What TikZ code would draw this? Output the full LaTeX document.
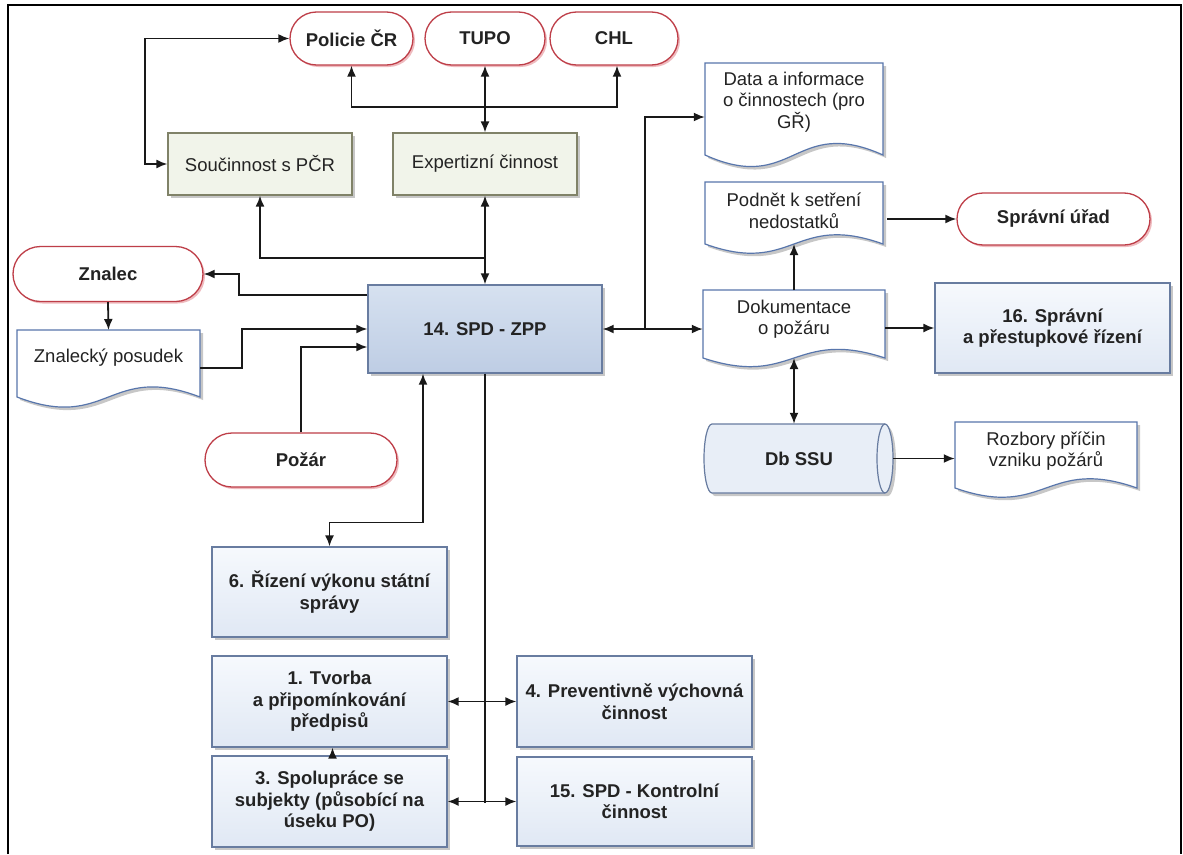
\documentclass[tikz,border=0pt]{standalone}
\usepackage{fontspec}
\setmainfont{Liberation Sans}
\usetikzlibrary{arrows.meta,shapes.misc,shadows,calc}
\definecolor{termred}{RGB}{190,62,72}
\definecolor{termglow}{RGB}{236,170,176}
\definecolor{olivegray}{RGB}{128,130,104}
\definecolor{lightgreen}{RGB}{241,244,234}
\definecolor{procborder}{RGB}{104,124,160}
\definecolor{proctop}{RGB}{246,249,253}
\definecolor{procbot}{RGB}{224,232,244}
\definecolor{zpptop}{RGB}{214,225,240}
\definecolor{zppbot}{RGB}{190,205,228}
\definecolor{docblue}{RGB}{88,118,172}
\definecolor{dbfill}{RGB}{232,238,247}
\definecolor{txt}{RGB}{35,35,35}
\definecolor{linec}{RGB}{25,25,25}
\newcommand{\dfont}{\fontsize{18.5pt}{21.5pt}\selectfont}
\newcommand{\docshape}[5]{%
  \draw[docsh] (#1,#3) -- (#2,#3) -- (#2,#4)
    .. controls ({(#1+#2)/2},{#4-#5}) and ({(#1+#2)/2},{#4+#5}) .. (#1,#4) -- cycle;}
\tikzset{
  shad/.style={drop shadow={shadow xshift=3pt,shadow yshift=-3pt,fill=black,opacity=0.22}},
  term/.style={rounded rectangle, draw=termred, line width=1.3pt, fill=white,
    font=\bfseries\dfont, text=txt, inner sep=0pt, minimum height=53pt,
    drop shadow={shadow xshift=2pt,shadow yshift=-2pt,fill=termglow,opacity=0.8}},
  lightbox/.style={rectangle, draw=olivegray, line width=1.2pt, fill=lightgreen,
    font=\dfont, text=txt, inner sep=0pt, minimum width=184pt, minimum height=62pt, shad},
  procbox/.style={rectangle, draw=procborder, line width=1.2pt, top color=proctop,
    bottom color=procbot, font=\bfseries\dfont, text=txt, align=center, inner sep=0pt,
    minimum width=235pt, minimum height=90pt, shad},
  docsh/.style={draw=docblue, line width=1.2pt, fill=white, shad},
  doctext/.style={font=\dfont, text=txt, align=center, inner sep=0pt},
  conn/.style={draw=linec, line width=1.8pt},
  arr/.style={conn, -{Latex[length=11pt,width=9pt]}},
  darr/.style={conn, {Latex[length=11pt,width=9pt]}-{Latex[length=11pt,width=9pt]}}
}
\begin{document}
\begin{tikzpicture}[x=1pt,y=-1pt]
\useasboundingbox (0,0) rectangle (1183,854);
\fill[white] (0,0) rectangle (1183,854);
% frame
\draw[line width=2pt,black] (8,854) -- (8,5) -- (1181,5) -- (1181,854);

% terminals
\node[term, minimum width=123pt] (pol) at (351.5,38.5) {Policie ČR};
\node[term, minimum width=120pt] (tupo) at (485,38.5) {TUPO};
\node[term, minimum width=128pt] (chl) at (614,38.5) {CHL};
\node[term, minimum width=193pt, minimum height=52pt] (urad) at (1053.5,219) {Správní úřad};
\node[term, minimum width=190pt, minimum height=55pt] (znalec) at (108,274) {Znalec};
\node[term, minimum width=192pt, minimum height=54pt] (pozar) at (301,460) {Požár};

% light boxes
\node[lightbox] (souc) at (260,164) {Součinnost s PČR};
\node[lightbox] (expert) at (485,164) {Expertizní činnost};

% main box
\node[rectangle, draw=procborder, line width=1.3pt, top color=zpptop, bottom color=zppbot,
  font=\bfseries\dfont, text=txt, minimum width=234pt, minimum height=88pt, inner sep=0pt, shad]
  (zpp) at (485,329) {14. SPD - ZPP};

% process boxes
\node[procbox] (s16) at (1052.5,328) {16. Správní\\a přestupkové řízení};
\node[procbox] (r6) at (329.5,592) {6. Řízení výkonu státní\\správy};
\node[procbox, minimum height=91pt] (r1) at (329.5,701.5) {1. Tvorba\\a připomínkování\\předpisů};
\node[procbox, minimum height=91pt] (r3) at (329.5,801.5) {3. Spolupráce se\\subjekty (působící na\\úseku PO)};
\node[procbox, minimum height=91pt] (r4) at (634.5,701.5) {4. Preventivně výchovná\\činnost};
\node[procbox, minimum height=89pt] (r15) at (634.5,801.5) {15. SPD - Kontrolní\\činnost};

% documents
\docshape{705}{883}{63}{155}{40}
\node[doctext, minimum width=178pt] (data) at (794,102) {Data a informace\\o činnostech (pro\\GŘ)};
\docshape{705}{883}{182}{244}{32}
\node[doctext, minimum width=178pt] (podnet) at (794,211) {Podnět k setření\\nedostatků};
\coordinate (podnetb) at (794,244);
\docshape{703}{885}{290}{358}{30}
\node[doctext, minimum width=182pt] (dok) at (794,319) {Dokumentace\\o požáru};
\coordinate (dokb) at (794,358);
\docshape{17}{200}{330}{397}{35}
\node[doctext, minimum width=183pt] (posudek) at (108.5,358) {Znalecký posudek};
\docshape{955}{1137}{422}{488}{32}
\node[doctext, minimum width=182pt] (rozbory) at (1046,451) {Rozbory příčin\\vzniku požárů};

% database cylinder
\draw[draw=procborder, line width=1.2pt, fill=dbfill, shad]
  (712,424) -- (885,424) arc[start angle=-90,end angle=90,x radius=8,y radius=34.5]
  -- (712,493) arc[start angle=90,end angle=270,x radius=8,y radius=34.5] -- cycle;
\draw[draw=procborder, line width=1.2pt]
  (885,424) arc[start angle=-90,end angle=-270,x radius=8,y radius=34.5];
\node[font=\bfseries\dfont, text=txt, minimum width=188pt, minimum height=69pt, inner sep=0pt] (db) at (799,458.5) {Db SSU};

% connectors top
\draw[darr] (tupo.south) -- (expert.north);
\coordinate (hb) at (485,107);
\draw[darr] (pol.south) |- (hb) -| ($(chl.south)+(3,0)$);
\coordinate (lp) at (145,164);
\draw[darr] (pol.west) -| (lp) -- (souc.west);
\draw[darr] (expert.south) -- (zpp.north);
\coordinate (jt) at (485,258);
\draw[arr] (jt) -| (souc.south);

% left side
\draw[arr] ($(zpp.west)+(0,-34)$) -| ($(znalec.east)+(35,0)$) -- (znalec.east);
\draw[arr] (znalec.south) -- (posudek.north |- 0,330);
\draw[arr] ($(posudek.east)+(0,10)$) -| ($(zpp.west)+(-125,0)$) -- (zpp.west);
\draw[arr] (pozar.north) |- ($(zpp.west)+(0,18)$);

% bottom
\draw[darr] ($(zpp.south)+(-62,0)$) |- ($(r6.north)+(0,-24)$) -- (r6.north);
\draw[conn] (zpp.south) -- ($(zpp.south)+(0,429)$);
\draw[darr] (r1.east) -- (r4.west);
\draw[darr] (r3.east) -- (r15.west);
\draw[arr] ($(r3.north)+(3,0)$) -- ($(r1.south)+(3,0)$);

% right side
\draw[darr] (zpp.east) -- (zpp.east -| dok.west);
\draw[arr] ($(zpp.east)+(42,0)$) |- ($(data.west)+(0,15)$);
\draw[arr] (dok.north |- 0,290) -- (podnetb);
\draw[arr] ($(podnet.east |- urad.west)+(4,0)$) -- (urad.west);
\draw[arr] (dok.east |- s16.west) -- (s16.west);
\draw[darr] (dokb) -- (dokb |- db.north);
\draw[arr] (db.east) -- (db.east -| rozbory.west);
\end{tikzpicture}
\end{document}
